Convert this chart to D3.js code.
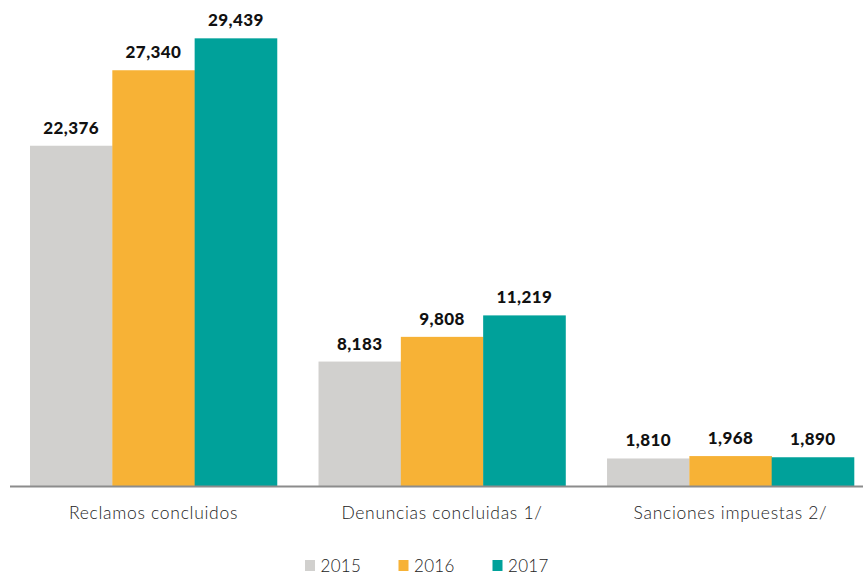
<!DOCTYPE html>
<html>
<head>
<meta charset="utf-8">
<script src="https://cdn.jsdelivr.net/npm/d3@7"></script>
<style>
  html, body { margin: 0; padding: 0; background: #fff; }
  svg { display: block; }
  .val { font-family: Lato, "Open Sans", sans-serif; font-weight: 900; font-size: 17px; fill: #111; letter-spacing: 0.4px; }
  .cat { font-family: Lato, "Open Sans", sans-serif; font-weight: 300; font-size: 17.5px; fill: #222; letter-spacing: 0.7px; }
  .leg { font-family: Lato, "Open Sans", sans-serif; font-weight: 300; font-size: 17px; fill: #222; letter-spacing: 0.3px; }
</style>
</head>
<body>
<svg id="chart" width="863" height="575"></svg>
<script>
// Categories and yearly series
const categories = ["Reclamos concluidos", "Denuncias concluidas 1/", "Sanciones impuestas 2/"];
const years = ["2015", "2016", "2017"];
const values2015 = [22376, 8183, 1810];
const values2016 = [27340, 9808, 1968];
const values2017 = [29439, 11219, 1890];
const colors = ["#d1d0ce", "#f7b236", "#00a19a"];

const series = [values2015, values2016, values2017];
const rows = categories.map((c, i) => ({
  category: c,
  values: years.map((y, j) => ({ year: y, value: series[j][i], color: colors[j] }))
}));

const svg = d3.select("#chart");

const x0 = d3.scaleBand().domain(categories).range([30, 854]).paddingInner(0.144).paddingOuter(0);
const x1 = d3.scaleBand().domain(years).range([0, x0.bandwidth()]).padding(0);
const y = d3.scaleLinear().domain([0, 30000]).range([486, 29.8]);

const fmt = d3.format(",");

const groups = svg.append("g").selectAll("g")
  .data(rows).join("g")
  .attr("transform", d => `translate(${x0(d.category)},0)`);

groups.selectAll("rect")
  .data(d => d.values).join("rect")
  .attr("x", d => x1(d.year))
  .attr("width", x1.bandwidth() + 0.3)
  .attr("y", d => y(d.value))
  .attr("height", d => y(0) - y(d.value))
  .attr("fill", d => d.color);

groups.selectAll("text.val")
  .data(d => d.values).join("text")
  .attr("class", "val")
  .attr("x", d => x1(d.year) + x1.bandwidth() / 2)
  .attr("y", d => y(d.value) - 12)
  .attr("text-anchor", "middle")
  .text(d => fmt(d.value));

// Baseline
svg.append("line")
  .attr("x1", 10).attr("x2", 863)
  .attr("y1", y(0) + 0.5).attr("y2", y(0) + 0.5)
  .attr("stroke", "#8c8c8c").attr("stroke-width", 2);

// Category labels
svg.append("g").selectAll("text")
  .data(categories).join("text")
  .attr("class", "cat")
  .attr("x", d => x0(d) + x0.bandwidth() / 2)
  .attr("y", 519)
  .attr("text-anchor", "middle")
  .text(d => d);

// Legend
const legX = [305, 398.5, 492.5];
const leg = svg.append("g").selectAll("g")
  .data(years).join("g")
  .attr("transform", (d, i) => `translate(${legX[i]},560)`);
leg.append("rect")
  .attr("width", 10).attr("height", 11)
  .attr("fill", (d, i) => colors[i]);
leg.append("text")
  .attr("class", "leg")
  .attr("x", 15.5).attr("y", 11.5)
  .text(d => d);
</script>
</body>
</html>
